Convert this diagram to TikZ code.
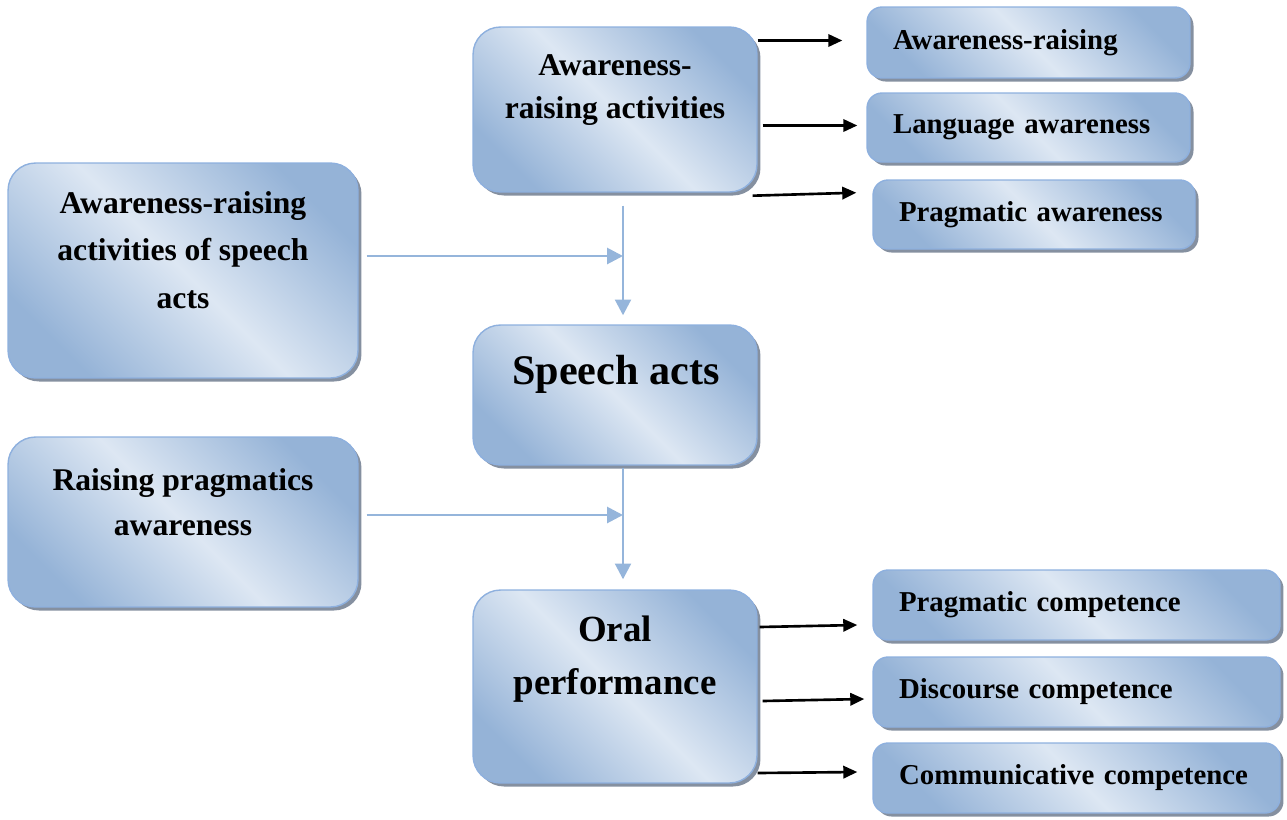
\documentclass[tikz,border=0pt]{standalone}
\usepackage{fontspec}
\setmainfont{Liberation Serif}
\usetikzlibrary{arrows.meta,shadows,calc}
\definecolor{boxdark}{RGB}{149,179,215}
\definecolor{boxlight}{RGB}{221,231,243}
\definecolor{boxline}{RGB}{142,176,222}
\definecolor{boxshadow}{RGB}{120,132,150}
\definecolor{flowblue}{RGB}{149,181,219}
\begin{document}
\begin{tikzpicture}[x=0.02cm, y=-0.02cm,
    box/.style={draw=boxline, line width=0.8pt, rounded corners=0.55cm,
      left color=boxdark, right color=boxdark, middle color=boxlight, shading angle=135,
      drop shadow={shadow xshift=2pt, shadow yshift=-2pt, fill=boxshadow, opacity=0.9}},
    tag/.style={box, rounded corners=0.3cm, align=left, inner xsep=0.52cm,
      font=\bfseries\fontsize{16.4}{20}\selectfont},
    txt/.style={align=center},
    flow/.style={draw=flowblue, line width=1.6pt, -{Triangle[length=9pt,width=9pt]}},
    link/.style={line width=1.5pt, -{Triangle[length=8pt,width=7pt]}}]
  \useasboundingbox (0,0) rectangle (1287,819);
  % main column
  \node[box, minimum width=5.68cm, minimum height=3.3cm] (ar) at (615,109.5) {};
  \node[txt, font=\bfseries\fontsize{18}{24.5}\selectfont] (ar-txt) at (615,90) {Awareness-\\raising activities};
  \node[box, minimum width=5.68cm, minimum height=2.8cm] (sa) at (615,395) {};
  \node[txt, font=\bfseries\fontsize{24}{28}\selectfont] (sa-txt) at (616,374) {Speech acts};
  \node[box, minimum width=5.68cm, minimum height=3.86cm] (op) at (615,686.5) {};
  \node[txt, font=\bfseries\fontsize{21}{30}\selectfont] (op-txt) at (615,659) {Oral\\performance};
  % left column
  \node[box, minimum width=7cm, minimum height=4.3cm] (ars) at (183,270.5) {};
  \node[txt, font=\bfseries\fontsize{18}{27}\selectfont] (ars-txt) at (183,250) {Awareness-raising\\activities of speech\\acts};
  \node[box, minimum width=7cm, minimum height=3.4cm] (rpa) at (183,522) {};
  \node[txt, font=\bfseries\fontsize{18}{25.6}\selectfont] (rpa-txt) at (183,502) {Raising pragmatics\\awareness};
  % right column
  \node[tag, text width=5.42cm, minimum height=1.42cm] (r1) at (1028.5,42.5) {Awareness-raising};
  \node[tag, text width=5.42cm, minimum height=1.38cm] (r2) at (1028.5,127.5) {Language awareness};
  \node[tag, text width=5.40cm, minimum height=1.38cm] (r3) at (1034,214.5) {Pragmatic awareness};
  \node[tag, text width=7.10cm, minimum height=1.4cm] (r4) at (1076.5,605) {Pragmatic competence};
  \node[tag, text width=7.10cm, minimum height=1.4cm] (r5) at (1076.5,692) {Discourse competence};
  \node[tag, text width=7.10cm, minimum height=1.4cm] (r6) at (1076.5,778) {Communicative competence};
  % blue flow
  \coordinate (j1) at (623,256);
  \coordinate (j2) at (623,515);
  \draw[flow, shorten <=0.26cm, shorten >=0.18cm] (ar.south -| j1) -- (sa.north -| j1);
  \draw[flow, shorten <=0.16cm] (ars.east |- j1) -- (j1);
  \draw[flow, shorten <=0.04cm, shorten >=0.2cm] (sa.south -| j2) -- (op.north -| j2);
  \draw[flow, shorten <=0.16cm] (rpa.east |- j2) -- (j2);
  % black links
  \draw[link] ($(ar.east |- r1.west)+(0,-2)$) -- ($(r1.west)+(-24,-2)$);
  \draw[link] ($(ar.east |- r2.west)+(5,-2)$) -- ($(r2.west)+(-9,-2)$);
  \draw[link] ($(ar.south east)+(-5,3)$) -- ($(r3.west |- ar.south east)+(-16,0)$);
  \draw[link] ($(op.east |- r4.west)+(2,22)$) -- ($(r4.west)+(-15,20)$);
  \draw[link] ($(op.east |- r5.west)+(5,9)$) -- ($(r5.west)+(-8,7)$);
  \draw[link] ($(op.east |- r6.west)+(0,-5)$) -- ($(r6.west)+(-15,-6)$);
\end{tikzpicture}
\end{document}
